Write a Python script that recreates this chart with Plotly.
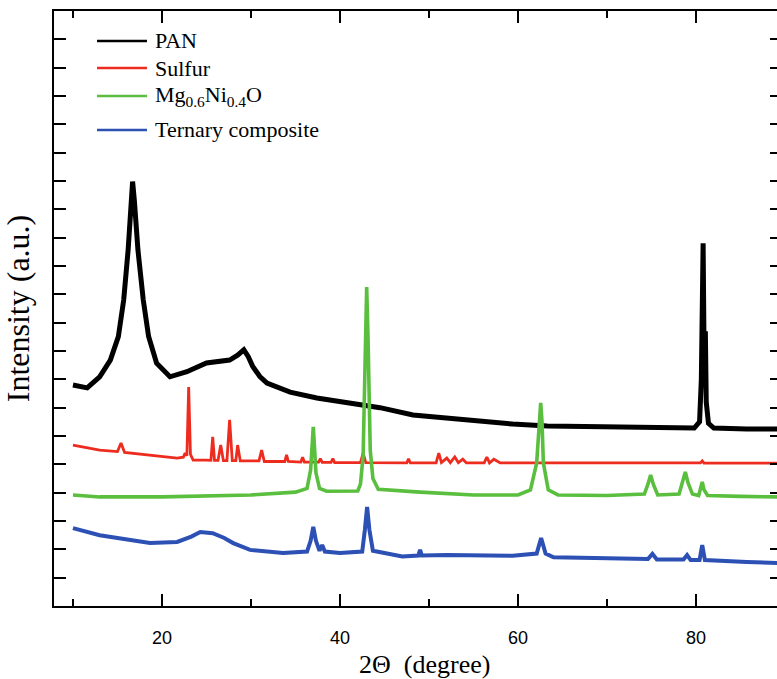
import plotly.graph_objects as go

# XRD patterns (2-theta in degrees, intensity in stacked arbitrary units)
pan_2theta = [10.0, 11.6, 13.0, 14.2, 15.1, 15.7, 16.2, 16.5, 16.7, 16.9, 17.3, 17.9,
              18.5, 19.4, 20.9, 22.8, 25.0, 27.6, 28.5, 29.2, 29.7, 30.2, 31.0, 31.8,
              33.0, 34.4, 37.4, 40.0, 42.2, 44.5, 48.2, 52.0, 55.7, 59.4, 63.3, 70.7,
              78.2, 79.8, 80.4, 80.6, 80.8, 80.92, 81.0, 81.05, 81.15, 81.4, 82.0, 85.7,
              89.2]
pan_int = [7.8, 7.7, 8.09, 8.68, 9.51, 10.8, 12.57, 14.3, 14.98, 14.3, 12.57, 10.8,
           9.51, 8.57, 8.09, 8.27, 8.58, 8.68, 8.85, 9.04, 8.8, 8.45, 8.1, 7.87,
           7.7, 7.55, 7.34, 7.2, 7.1, 7.0, 6.74, 6.63, 6.5, 6.42, 6.35, 6.3,
           6.28, 6.28, 6.5, 8.0, 12.8, 8.5, 9.1, 9.7, 7.2, 6.45, 6.28, 6.25,
           6.25]

sulfur_2theta = [10.0, 13.0, 15.0, 15.4, 15.8, 18.65, 21.7, 22.4, 22.6, 22.8, 23.0, 23.2,
                 23.5, 25.0, 25.5, 25.7, 25.9, 26.3, 26.6, 26.9, 27.3, 27.6, 27.9, 28.3,
                 28.5, 28.8, 30.9, 31.2, 31.5, 33.8, 34.0, 34.2, 35.6, 35.8, 36.0, 37.6,
                 37.8, 38.0, 39.0, 39.2, 39.4, 42.3, 42.6, 42.9, 46.7, 47.5, 47.7, 47.9,
                 50.8, 51.1, 51.4, 52.0, 52.4, 52.9, 53.3, 53.8, 54.2, 56.2, 56.5, 56.8,
                 57.3, 58.0, 70.0, 80.5, 80.7, 80.9, 89.2]
sulfur_int = [5.68, 5.5, 5.45, 5.75, 5.42, 5.33, 5.22, 5.25, 5.4, 5.3, 7.73, 5.35,
              5.15, 5.15, 5.14, 5.97, 5.14, 5.14, 5.68, 5.13, 5.13, 6.57, 5.13, 5.13,
              5.68, 5.12, 5.12, 5.5, 5.1, 5.1, 5.33, 5.1, 5.08, 5.25, 5.08, 5.08,
              5.2, 5.07, 5.07, 5.2, 5.06, 5.06, 5.4, 5.06, 5.05, 5.05, 5.2, 5.05,
              5.05, 5.4, 5.06, 5.22, 5.06, 5.26, 5.06, 5.18, 5.05, 5.05, 5.26, 5.05,
              5.18, 5.05, 5.05, 5.05, 5.12, 5.04, 5.04]

mgnio_2theta = [10.0, 13.0, 20.0, 30.0, 35.0, 36.3, 36.7, 36.9, 37.0, 37.1, 37.3, 37.7,
                38.5, 42.0, 42.3, 42.6, 42.85, 43.0, 43.15, 43.4, 43.7, 44.3, 49.0, 55.0,
                60.0, 61.4, 62.1, 62.4, 62.55, 62.7, 62.85, 63.4, 64.5, 70.0, 74.2, 74.6,
                74.9, 75.2, 75.7, 78.1, 78.5, 78.8, 79.1, 79.6, 80.3, 80.5, 80.7, 80.9,
                81.3, 85.0, 89.2]
mgnio_int = [3.92, 3.85, 3.85, 3.92, 4.02, 4.15, 4.8, 5.8, 6.32, 5.8, 4.7, 4.15,
             4.05, 4.06, 4.3, 5.3, 9.5, 11.26, 9.5, 5.5, 4.5, 4.12, 4.02, 3.92,
             3.92, 4.1, 5.05, 6.5, 7.17, 6.5, 5.05, 4.1, 3.92, 3.9, 3.95, 4.3,
             4.62, 4.3, 3.92, 3.95, 4.35, 4.73, 4.35, 3.95, 3.9, 4.15, 4.38, 4.1,
             3.9, 3.87, 3.85]

ternary_2theta = [10.0, 13.0, 18.65, 21.7, 23.3, 24.3, 25.7, 27.0, 28.0, 29.9, 33.6, 36.3,
                  36.7, 37.0, 37.3, 37.7, 38.0, 38.3, 40.0, 42.5, 42.8, 43.05, 43.3, 43.7,
                  45.0, 47.0, 48.8, 49.0, 49.2, 52.0, 59.4, 62.1, 62.6, 63.1, 64.0, 70.7,
                  74.6, 75.1, 75.6, 78.6, 79.0, 79.4, 80.4, 80.7, 81.0, 85.7, 89.2]
ternary_int = [2.75, 2.5, 2.22, 2.26, 2.45, 2.61, 2.57, 2.4, 2.22, 1.98, 1.87, 1.92,
               2.3, 2.79, 2.3, 1.95, 2.15, 1.92, 1.87, 1.92, 2.7, 3.5, 2.7, 1.95,
               1.87, 1.75, 1.78, 1.98, 1.78, 1.8, 1.77, 1.85, 2.4, 1.85, 1.72, 1.66,
               1.66, 1.84, 1.64, 1.64, 1.8, 1.62, 1.62, 2.15, 1.62, 1.55, 1.52]

series_names = ["PAN", "Sulfur", "Mg<sub>0.6</sub>Ni<sub>0.4</sub>O", "Ternary composite"]
series_x = [pan_2theta, sulfur_2theta, mgnio_2theta, ternary_2theta]
series_y = [pan_int, sulfur_int, mgnio_int, ternary_int]
series_colors = ["#000000", "#ee2b1f", "#5abf3e", "#2c50b4"]
series_widths = [5.0, 2.8, 3.6, 4.0]

serif = "Liberation Serif, Times New Roman, serif"
sans = "Liberation Sans, Arial, sans-serif"

fig = go.Figure()
for name, xs, ys, color, width in zip(series_names, series_x, series_y,
                                      series_colors, series_widths):
    fig.add_trace(go.Scatter(x=xs, y=ys, mode="lines", name=name,
                             showlegend=False,
                             line=dict(color=color, width=width)))

# carrier for the right-hand tick column
fig.add_trace(go.Scatter(x=[None], y=[None], yaxis="y2", showlegend=False,
                         hoverinfo="skip"))

# key in the upper-left corner: sample line + label per pattern
key_rows = [0.9496, 0.9042, 0.8571, 0.800]
shapes = []
annotations = []
for name, color, ky in zip(series_names, series_colors, key_rows):
    shapes.append(dict(type="line", xref="paper", yref="paper",
                       x0=0.0595, x1=0.1286, y0=ky, y1=ky,
                       line=dict(color=color, width=2.5)))
    annotations.append(dict(xref="paper", yref="paper", x=0.1369, y=ky,
                            xanchor="left", yanchor="middle", showarrow=False,
                            text=name,
                            font=dict(family=serif, size=22, color="black")))

annotations.append(dict(xref="paper", yref="paper", x=0.512, y=-0.0975,
                        xanchor="center", yanchor="middle", showarrow=False,
                        text="2\u0398  (degree)", borderpad=0,
                        font=dict(family=serif, size=26, color="black")))

fig.update_layout(
    width=777, height=679,
    margin=dict(l=54, r=0, t=11, b=73),
    paper_bgcolor="white", plot_bgcolor="white",
    showlegend=False,
    shapes=shapes,
    annotations=annotations,
    xaxis=dict(range=[7.87, 89.1], dtick=20, tick0=0,
               ticks="inside", ticklen=12, tickwidth=2, tickcolor="black",
               minor=dict(dtick=10, tick0=0, ticks="inside", ticklen=7,
                          tickwidth=2, tickcolor="black"),
               showline=True, linewidth=2, linecolor="black", mirror="ticks",
               showgrid=False, zeroline=False, ticklabelstandoff=14,
               tickfont=dict(family=sans, size=18, color="black")),
    yaxis=dict(range=[0, 21], dtick=1, tick0=0,
               ticks="inside", ticklen=12, tickwidth=2, tickcolor="black",
               showticklabels=False, showline=True, linewidth=2,
               linecolor="black", showgrid=False, zeroline=False,
               title=dict(text="Intensity (a.u.)",
                          font=dict(family=serif, size=32, color="black"),
                          standoff=16)),
    yaxis2=dict(range=[0, 21], dtick=1, tick0=0, overlaying="y", side="right",
                anchor="free", position=1.0,
                ticks="inside", ticklen=7, tickwidth=2, tickcolor="black",
                showticklabels=False, showline=False, showgrid=False,
                zeroline=False),
)

fig.write_html("out.html")
